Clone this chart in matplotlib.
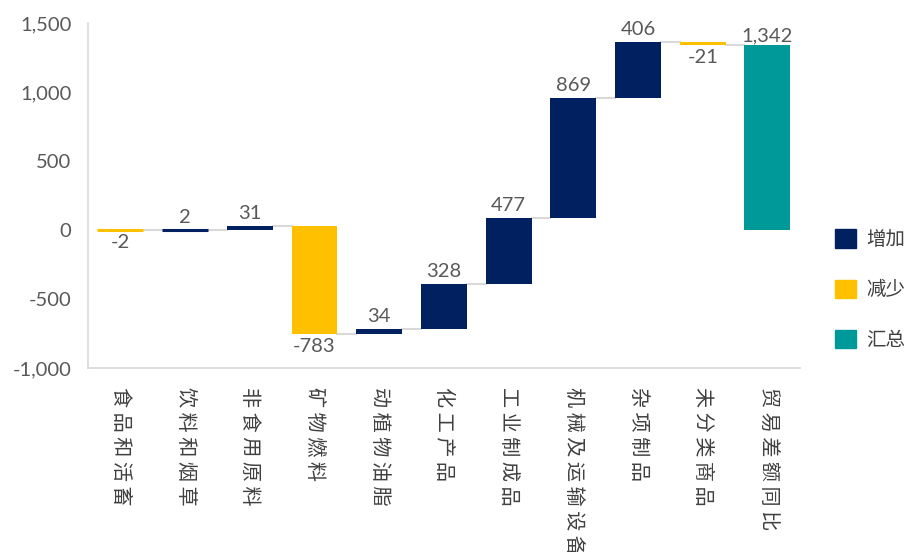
import numpy as np
import matplotlib
matplotlib.use("Agg")
import matplotlib.pyplot as plt
from matplotlib.patches import Patch

plt.rcParams['font.family'] = ['Lato', 'Noto Sans CJK SC', 'DejaVu Sans']

# 贸易差额变动分解
categories = ["食品和活畜", "饮料和烟草", "非食用原料", "矿物燃料", "动植物油脂",
              "化工产品", "工业制成品", "机械及运输设备", "杂项制品", "未分类商品",
              "贸易差额同比"]
changes = [-2, 2, 31, -783, 34, 328, 477, 869, 406, -21]
total = 1342
legend_labels = ["增加", "减少", "汇总"]

c_up = "#002060"
c_down = "#FFC000"
c_total = "#009999"
c_grid = "#D9D9D9"
c_text = "#595959"

fig = plt.figure(figsize=(9.12, 5.52), dpi=100)
ax = fig.add_axes([0.0965, 0.3333, 0.7805, 0.625])

cum = np.cumsum(changes)
starts = np.concatenate([[0], cum[:-1]])
x = np.arange(len(categories))
w = 0.71

for i, (s, d) in enumerate(zip(starts, changes)):
    col = c_up if d >= 0 else c_down
    # very small changes get an outline so they stay visible
    lw = 2.2 if abs(d) < 10 else 0
    ax.bar(x[i], d, bottom=s, width=w, color=col, edgecolor=col, linewidth=lw, zorder=3)
    if d >= 0:
        ax.annotate(f"{d:,}", (x[i], s + d), xytext=(0, 3), textcoords="offset points",
                    ha="center", va="bottom", fontsize=14.5, color=c_text)
    else:
        ax.annotate(f"{d:,}", (x[i], s + d), xytext=(0, -3), textcoords="offset points",
                    ha="center", va="top", fontsize=14.5, color=c_text)

ax.bar(x[-1], total, width=w, color=c_total, zorder=3)
ax.annotate(f"{total:,}", (x[-1], total), xytext=(0, 0), textcoords="offset points",
            ha="center", va="bottom", fontsize=14.5, color=c_text)

# connector lines between bars
levels = list(cum)
for i in range(len(levels)):
    ax.plot([x[i] + w / 2, x[i + 1] - w / 2], [levels[i], levels[i]],
            color=c_grid, lw=1.5, zorder=2)

ax.set_xlim(-0.5, len(categories) - 0.5)
ax.set_ylim(-1000, 1500)
ax.set_yticks(np.arange(-1000, 1501, 500))
ax.yaxis.set_major_formatter(matplotlib.ticker.FuncFormatter(lambda v, p: f"{int(v):,}"))
ax.tick_params(axis="y", length=0, labelsize=14.5, labelcolor=c_text, pad=12)
ax.set_xticks(x)
ax.set_xticklabels([" ".join(c) for c in categories], rotation=-90, ha="center", va="top",
                   fontsize=14.5, color="#404040", family=["Noto Sans CJK SC", "DejaVu Sans"])
ax.tick_params(axis="x", length=0, pad=14)
for sp in ["top", "right"]:
    ax.spines[sp].set_visible(False)
for sp in ["left", "bottom"]:
    ax.spines[sp].set_color(c_grid)
    ax.spines[sp].set_linewidth(1.2)

handles = [Patch(color=c_up), Patch(color=c_down), Patch(color=c_total)]
leg = fig.legend(handles, legend_labels, loc="center left", bbox_to_anchor=(0.916, 0.475),
                 frameon=False, handlelength=1.05, handleheight=1.05, labelspacing=1.5,
                 handletextpad=0.55, borderaxespad=0, borderpad=0,
                 prop={"family": ["Noto Sans CJK SC"], "size": 14})
for t in leg.get_texts():
    t.set_color("#404040")

fig.savefig("out.png", dpi=100)
